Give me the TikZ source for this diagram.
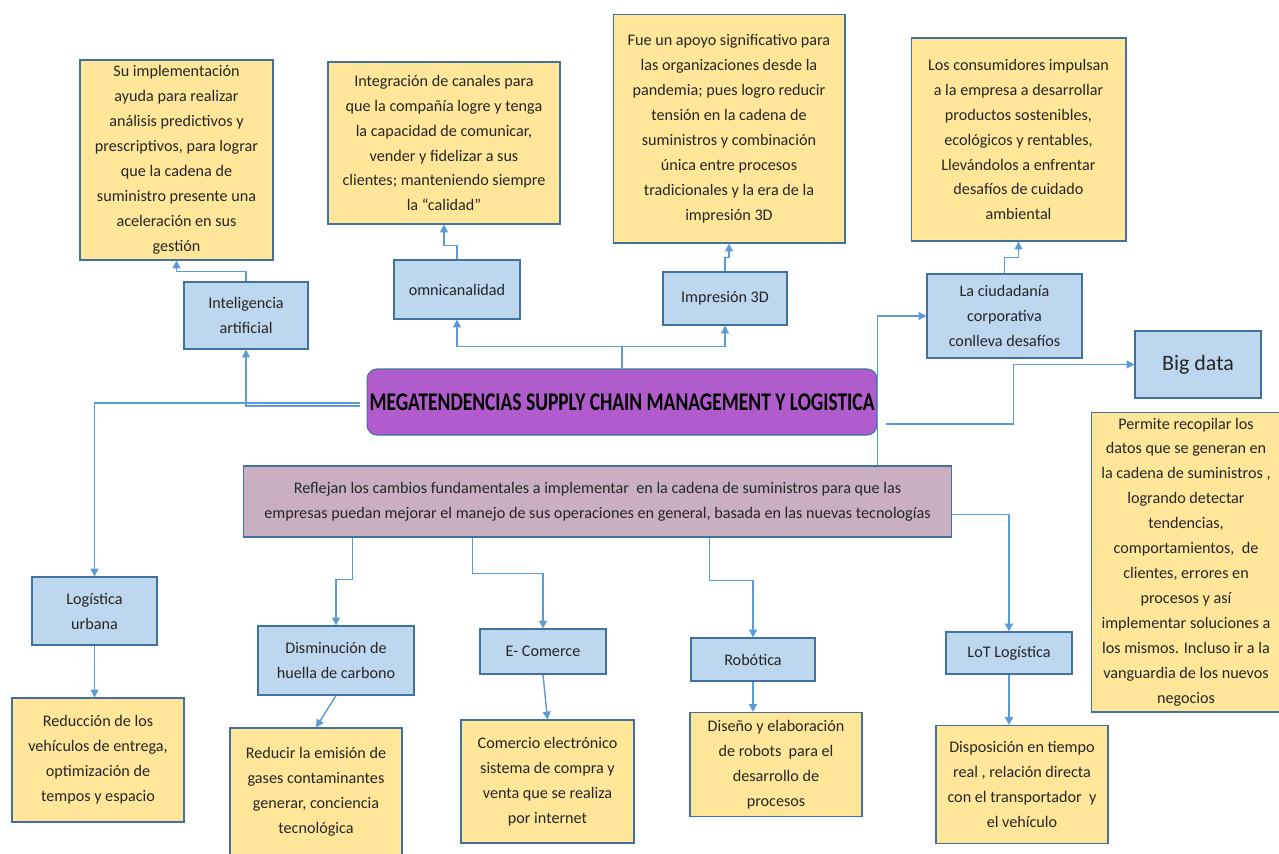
\documentclass[tikz,border=0pt]{standalone}
\usepackage{fontspec}
\setmainfont{Carlito}
\newfontfamily\titlefont{Carlito}[FakeStretch=0.765]
\usetikzlibrary{arrows.meta,calc}
\definecolor{boxline}{HTML}{41719C}
\definecolor{bluefill}{HTML}{BDD7EE}
\definecolor{yelfill}{HTML}{FFE699}
\definecolor{mainfill}{HTML}{B05CCC}
\definecolor{mauvefill}{HTML}{C8B0C2}
\definecolor{linkcol}{HTML}{5B9BD5}
\tikzset{
	box/.style={draw=boxline, line width=0.6pt, inner sep=0pt, align=center,
		text=black!85, font=\fontsize{9.2}{14.2}\selectfont},
	bluebox/.style={box, fill=bluefill},
	yelbox/.style={box, fill=yelfill},
	link/.style={draw=linkcol, line width=0.8pt, -{Triangle[length=4.5pt,width=4.5pt]}}
}

\begin{document}
\begin{tikzpicture}[x=0.02cm, y=-0.02cm]
			%%%%% START %%%%%
			\useasboundingbox (0,0) rectangle (1279,853);
			
			\node[box, fill=mainfill, rounded corners=0.2cm, minimum width=10.2cm, minimum height=1.32cm,
				text=black, font=\titlefont\fontsize{14.5}{16}\selectfont\bfseries] (main) at (622,402)
				{MEGATENDENCIAS SUPPLY CHAIN MANAGEMENT Y LOGISTICA};
			\node[box, fill=mauvefill, minimum width=14.18cm, minimum height=1.42cm] (refl) at (597.5,501.5)
				{Reflejan los cambios fundamentales a implementar\ \ en la cadena de suministros para que las\\
				empresas puedan mejorar el manejo de sus operaciones en general, basada en las nuevas tecnologías};
			
			% upper branch
			\node[bluebox, minimum width=2.48cm, minimum height=1.34cm] (ia) at (246,315.5) {Inteligencia\\ artificial};
			\node[yelbox, minimum width=3.86cm, minimum height=4cm] (iatxt) at (176.5,160)
				{Su implementación\\ ayuda para realizar\\ análisis predictivos y\\ prescriptivos, para lograr\\
				que la cadena de\\ suministro presente una\\ aceleración en sus\\ gestión};
			
			\node[bluebox, minimum width=2.52cm, minimum height=1.18cm] (omni) at (457,289.5) {omnicanalidad};
			\node[yelbox, minimum width=4.64cm, minimum height=3.24cm] (omnitxt) at (444,143)
				{Integración de canales para\\ que la compañía logre y tenga\\ la capacidad de comunicar,\\
				vender y fidelizar a sus\\ clientes; manteniendo siempre\\ la “calidad”};
			
			\node[bluebox, minimum width=2.48cm, minimum height=1.06cm] (imp) at (725,298.5) {Impresión 3D};
			\node[yelbox, minimum width=4.64cm, minimum height=4.58cm] (imptxt) at (729,128.5)
				{Fue un apoyo significativo para\\ las organizaciones desde la\\ pandemia; pues logro reducir\\
				tensión en la cadena de\\ suministros y combinación\\ única entre procesos\\
				tradicionales y la era de la\\ impresión 3D};
			
			\node[bluebox, minimum width=3.1cm, minimum height=1.68cm] (ciu) at (1004.5,316)
				{La ciudadanía\\ corporativa\\ conlleva desafíos};
			\node[yelbox, minimum width=4.3cm, minimum height=4.06cm] (ciutxt) at (1018.5,139.5)
				{Los consumidores impulsan\\ a la empresa a desarrollar\\ productos sostenibles,\\
				ecológicos y rentables,\\ Llevándolos a enfrentar\\ desafíos de cuidado\\ ambiental};
			
			\node[bluebox, minimum width=2.52cm, minimum height=1.34cm, font=\fontsize{12.5}{15}\selectfont] (big) at (1198,364.5) {Big data};
			\node[yelbox, minimum width=3.8cm, minimum height=6cm] (bigtxt) at (1186,562)
				{Permite recopilar los\\ datos que se generan en\\ la cadena de suministros ,\\ logrando detectar\\
				tendencias,\\ comportamientos,\ \ de\\ clientes, errores en\\ procesos y así\\
				implementar soluciones a\\ los mismos. Incluso ir a la\\ vanguardia de los nuevos\\ negocios};
			
			% lower branch
			\node[bluebox, minimum width=2.5cm, minimum height=1.36cm] (urb) at (94.5,611) {Logística\\ urbana};
			\node[yelbox, minimum width=3.44cm, minimum height=2.48cm] (urbtxt) at (98,760)
				{Reducción de los\\ vehículos de entrega,\\ optimización de\\ tempos y espacio};
			
			\node[bluebox, minimum width=3.12cm, minimum height=1.38cm] (hue) at (336,660.5) {Disminución de\\ huella de carbono};
			\node[yelbox, minimum width=3.44cm, minimum height=2.56cm] (huetxt) at (316,792)
				{Reducir la emisión de\\ gases contaminantes\\ generar, conciencia\\ tecnológica};
			
			\node[bluebox, minimum width=2.52cm, minimum height=0.9cm] (com) at (543,651.5) {E- Comerce};
			\node[yelbox, minimum width=3.46cm, minimum height=2.46cm] (comtxt) at (547.5,781.5)
				{Comercio electrónico\\ sistema de compra y\\ venta que se realiza\\ por internet};
			
			\node[bluebox, minimum width=2.48cm, minimum height=0.86cm] (rob) at (753,659.5) {Robótica};
			\node[yelbox, minimum width=3.44cm, minimum height=2.08cm] (robtxt) at (776,764.5)
				{Diseño y elaboración\\ de robots\ \ para el\\ desarrollo de\\ procesos};
			
			\node[bluebox, minimum width=2.52cm, minimum height=0.84cm] (lot) at (1009,653) {LoT Logística};
			\node[yelbox, minimum width=3.44cm, minimum height=2.36cm] (lottxt) at (1022,784.5)
				{Disposición en tiempo\\ real , relación directa\\ con el transportador\ \ y\\ el vehículo};
			
			% connectors
			\draw[link] ($(main.west)+(-7,1)$) -| (urb.north);
			\draw[link] ($(main.west)+(-7,4)$) -| (ia.south);
			\draw[link] (ia.north) -- ++(0,-10) -| (iatxt.south);
			\draw[link] (main.north) -- ++(0,-22) coordinate (mtop) -| (omni.south);
			\draw[link] (mtop) -| (imp.south);
			\draw[link] (omni.north) -- ++(0,-14) -| (omnitxt.south);
			\draw[link] (imp.north) -- ++(0,-14) -| (imptxt.south);
			\draw[link] (ciu.north) -- ++(0,-16) -| (ciutxt.south);
			\draw[link] (refl.north -| main.east) |- (ciu.west);
			\draw[link] ($(main.east)+(9,22)$) -- ++(127,0) |- (big.west);
			
			\draw[link] ($(refl.south west)+(110,0)$) -- ++(0,42) -| (hue.north);
			\draw[link] ($(refl.south west)+(230,0)$) -- ++(0,36) -| (com.north);
			\draw[link] ($(refl.south west)+(467,0)$) -- ++(0,43) -| (rob.north);
			\draw[link] ($(refl.east)+(0,13)$) -| (lot.north);
			
			\draw[link] (urb.south) -- (urb.south |- urbtxt.north);
			\draw[link] (hue.south) -- (huetxt.north);
			\draw[link] (com.south) -- (comtxt.north);
			\draw[link] (rob.south) -- (rob.south |- robtxt.north);
			\draw[link] (lot.south) -- (lot.south |- lottxt.north);
			%%%%% END %%%%%
\end{tikzpicture}
\end{document}
